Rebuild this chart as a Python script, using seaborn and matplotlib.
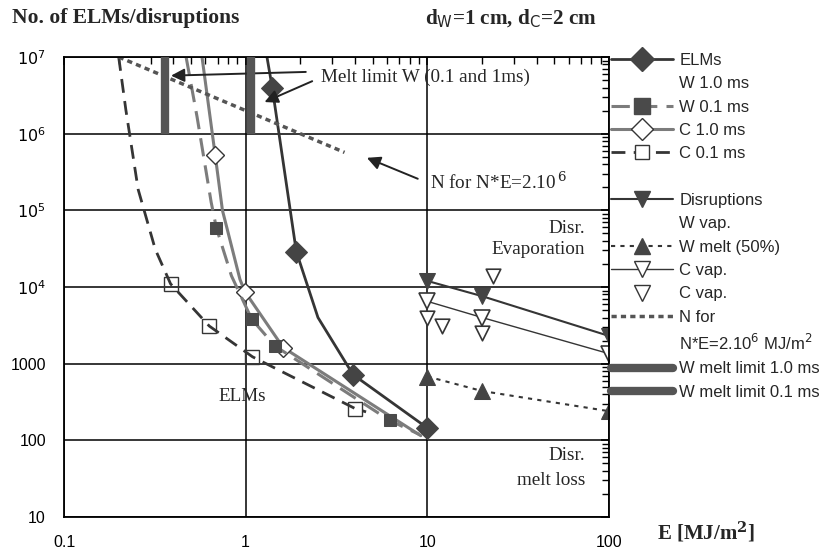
import matplotlib
matplotlib.use("Agg")
import matplotlib.pyplot as plt
import seaborn as sns
from matplotlib.lines import Line2D
from matplotlib.ticker import FixedLocator, LogLocator, FuncFormatter, NullFormatter

# ELMs, W target, 1.0 ms
elm_w10_E = [1.31, 1.4, 1.9, 2.5, 3.9, 10.0]
elm_w10_N = [1e7, 4e6, 2.9e4, 4000, 720, 145]
# ELMs, W target, 0.1 ms
elm_w01_E = [0.47, 0.54, 0.646, 0.69, 0.835, 1.08, 1.45, 6.2, 9.0]
elm_w01_N = [1e7, 1.66e6, 1.27e5, 5.9e4, 1.4e4, 3800, 1700, 182, 120]
# ELMs, C target, 1.0 ms
elm_c10_E = [0.575, 0.68, 0.745, 0.93, 0.99, 1.61, 9.2]
elm_c10_N = [1e7, 5.2e5, 1.0e5, 1.26e4, 8700, 1620, 115]
# ELMs, C target, 0.1 ms
elm_c01_E = [0.2, 0.219, 0.256, 0.318, 0.386, 0.63, 1.09, 4.0, 4.6]
elm_c01_N = [1e7, 2.05e6, 1.87e5, 3.1e4, 1.1e4, 3100, 1230, 260, 235]

# disruptions
dis_E = [10, 20, 100]
dis_w_vap = [1.2e4, 7600, 2300]
dis_w_melt = [680, 440, 240]
dis_c_vap = [6500, 4000, 1350]
c_vap_E = [10, 12, 20, 23]
c_vap_N = [4000, 3100, 2500, 1.4e4]

# N for N*E = 2e6 MJ/m2
ne_E = [0.2, 1.0, 3.5]
ne_N = [1e7, 2e6, 5.7e5]

# W melt limits (0.1 ms, 1.0 ms)
melt_E = [0.36, 1.07]
melt_N = [1e6, 1e7]

x_ticks = [0.1, 1, 10, 100]
x_labels = ["0.1", "1", "10", "100"]
y_ticks = [10, 100, 1000, 1e4, 1e5, 1e6, 1e7]
y_labels = ["10", "100", "1000", "$10^4$", "$10^5$", "$10^6$", "$10^7$"]

DARK = "#353535"
GREY = "#7c7c7c"
SERIF = ["Liberation Serif", "DejaVu Serif"]

sns.set_style("white")
plt.rcParams["font.family"] = ["Liberation Sans", "DejaVu Sans"]

fig = plt.figure(figsize=(8.31, 5.56), dpi=100)
ax = fig.add_axes([64 / 831, 1 - 517 / 556, 545 / 831, 460 / 556])
ax.set_xscale("log")
ax.set_yscale("log")

common = dict(ax=ax, sort=False, estimator=None, legend=False)

sns.lineplot(x=elm_c10_E, y=elm_c10_N, color=GREY, lw=2.2, marker="D",
             markevery=[1, 4, 5], markersize=9, markerfacecolor="white",
             markeredgecolor=DARK, markeredgewidth=1.0, **common)
sns.lineplot(x=elm_w01_E, y=elm_w01_N, color=GREY, lw=2.2, dashes=(6, 3),
             marker="s", markevery=[3, 5, 6, 7], markersize=9,
             markerfacecolor="#4a4a4a", markeredgecolor="#4a4a4a", **common)
sns.lineplot(x=elm_c01_E, y=elm_c01_N, color=DARK, lw=2.0, dashes=(5, 3),
             marker="s", markevery=[4, 5, 6, 7], markersize=10,
             markerfacecolor="none", markeredgecolor=DARK, markeredgewidth=1.0,
             **common)
sns.lineplot(x=elm_w10_E, y=elm_w10_N, color=DARK, lw=2.0, marker="D",
             markevery=[1, 2, 4, 5], markersize=11, markerfacecolor="#444444",
             markeredgecolor="#444444", **common)

sns.lineplot(x=ne_E, y=ne_N, color="#555555", lw=2.5, dashes=(1.5, 1.2), **common)

sns.lineplot(x=dis_E, y=dis_w_vap, color=DARK, lw=1.5, marker="v", markersize=11,
             markerfacecolor="#444444", markeredgecolor="#444444", **common)
sns.lineplot(x=dis_E, y=dis_w_melt, color=DARK, lw=1.5, dashes=(2, 2.5), marker="^",
             markersize=11, markerfacecolor="#444444", markeredgecolor="#444444",
             **common)
sns.lineplot(x=dis_E, y=dis_c_vap, color=DARK, lw=1.0, marker="v", markersize=11,
             markerfacecolor="white", markeredgecolor=DARK, markeredgewidth=1.2,
             **common)
sns.scatterplot(x=c_vap_E, y=c_vap_N, ax=ax, marker="v", s=110, color="white",
                edgecolor=DARK, linewidth=1.2, legend=False, zorder=3)

ax.vlines(melt_E, melt_N[0], melt_N[1], colors="#555555", lw=6, zorder=4)

ax.set_xlim(0.1, 100)
ax.set_ylim(10, 1e7)
ax.grid(True, which="major", color="black", lw=1.1)
ax.xaxis.set_major_locator(FixedLocator(x_ticks))
ax.xaxis.set_major_formatter(FuncFormatter(lambda v, p: x_labels[x_ticks.index(v)] if v in x_ticks else ""))
ax.yaxis.set_major_locator(FixedLocator(y_ticks))
ax.yaxis.set_major_formatter(FuncFormatter(lambda v, p: y_labels[y_ticks.index(v)] if v in y_ticks else ""))
ax.xaxis.set_minor_locator(LogLocator(base=10, subs=range(2, 10)))
ax.yaxis.set_minor_locator(LogLocator(base=10, subs=range(2, 10)))
ax.xaxis.set_minor_formatter(NullFormatter())
ax.yaxis.set_minor_formatter(NullFormatter())
ax.tick_params(which="both", direction="in", top=True, right=True, colors="black",
               labelsize=11.5)
ax.tick_params(which="major", length=6, width=1.1)
ax.tick_params(which="minor", length=5, width=1.0)
ax.tick_params(axis="x", pad=13)
ax.tick_params(axis="y", pad=13)
for s in ax.spines.values():
    s.set_color("black")
    s.set_linewidth(1.3)

# annotations
arrow = dict(arrowstyle="-|>", color="#222222", lw=1.4, mutation_scale=20)
ax.annotate("", xy=(0.375, 5.7e6), xytext=(2.22, 6.4e6), arrowprops=arrow)
ax.annotate("", xy=(1.23, 2.5e6), xytext=(2.4, 5.0e6), arrowprops=arrow)
ax.text(2.59, 5.5e6, "Melt limit W (0.1 and 1ms)", family=SERIF, fontsize=13.8,
        va="center", ha="left")
ax.annotate("", xy=(4.5, 5.0e5), xytext=(9.15, 2.5e5), arrowprops=arrow)
ax.text(10.4, 2.3e5, "N for N*E=2.10$^{\\,6}$", family=SERIF, fontsize=13.8,
        va="center", ha="left", math_fontfamily="dejavuserif")
ax.text(74, 4.2e4, "Disr.\nEvaporation", family=SERIF, fontsize=13.8, ha="right",
        va="center", multialignment="right", linespacing=1.3)
ax.text(0.96, 370, "ELMs", family=SERIF, fontsize=13.8, ha="center", va="center")
ax.text(74, 44, "Disr.\nmelt loss", family=SERIF, fontsize=13.8, ha="right",
        va="center", multialignment="right", linespacing=1.6)

fig.text(12 / 831, 1 - 18 / 556, "No. of ELMs/disruptions", family=SERIF,
         fontsize=15.5, fontweight="bold", va="center", ha="left")
fig.text(425 / 831, 1 - 18 / 556, "d$_{\\mathsf{W}}$=1 cm, d$_{\\mathsf{C}}$=2 cm",
         family=SERIF, fontsize=15.2, fontweight="bold", va="center", ha="left",
         math_fontfamily="dejavuserif")
fig.text(657 / 831, 1 - 532 / 556, "E [MJ/m$^{\\mathbf{2}}$]", family=SERIF,
         fontsize=15, fontweight="bold", va="center", ha="left",
         math_fontfamily="dejavuserif")

# legend
blank = Line2D([], [], color="none")
handles = [
    Line2D([], [], color=DARK, lw=2, marker="D", ms=12, mfc="#444444", mec="#444444"),
    blank,
    Line2D([], [], color=GREY, lw=2.2, dashes=(6, 3), marker="s", ms=11,
           mfc="#4a4a4a", mec="#4a4a4a"),
    Line2D([], [], color=GREY, lw=2.2, marker="D", ms=11, mfc="white", mec=DARK),
    Line2D([], [], color=DARK, lw=2, dashes=(5, 3), marker="s", ms=10,
           mfc="white", mec=DARK),
    blank,
    Line2D([], [], color=DARK, lw=1.5, marker="v", ms=11, mfc="#444444", mec="#444444"),
    blank,
    Line2D([], [], color=DARK, lw=1.5, dashes=(2, 2.5), marker="^", ms=11,
           mfc="#444444", mec="#444444"),
    Line2D([], [], color=DARK, lw=1.0, marker="v", ms=11, mfc="white", mec=DARK),
    Line2D([], [], color="none", marker="v", ms=11, mfc="white", mec=DARK),
    Line2D([], [], color="#555555", lw=2.5, dashes=(1.5, 1.2)),
    blank,
    Line2D([], [], color="#555555", lw=6),
    Line2D([], [], color="#555555", lw=6),
]
labels = ["ELMs", "W 1.0 ms", "W 0.1 ms", "C 1.0 ms", "C 0.1 ms", " ",
          "Disruptions", "W vap.", "W melt (50%)", "C vap.", "C vap.", "N for",
          "N*E=2.10$^{6}$ MJ/m$^{2}$", "W melt limit 1.0 ms", "W melt limit 0.1 ms"]
fig.legend(handles, labels, loc="upper left", bbox_to_anchor=(611 / 831, 1 - 53 / 556),
           frameon=False, fontsize=12, handlelength=3.7, handletextpad=0.4,
           labelspacing=0.5, borderpad=0, borderaxespad=0)

fig.savefig("out.png", dpi=100)
